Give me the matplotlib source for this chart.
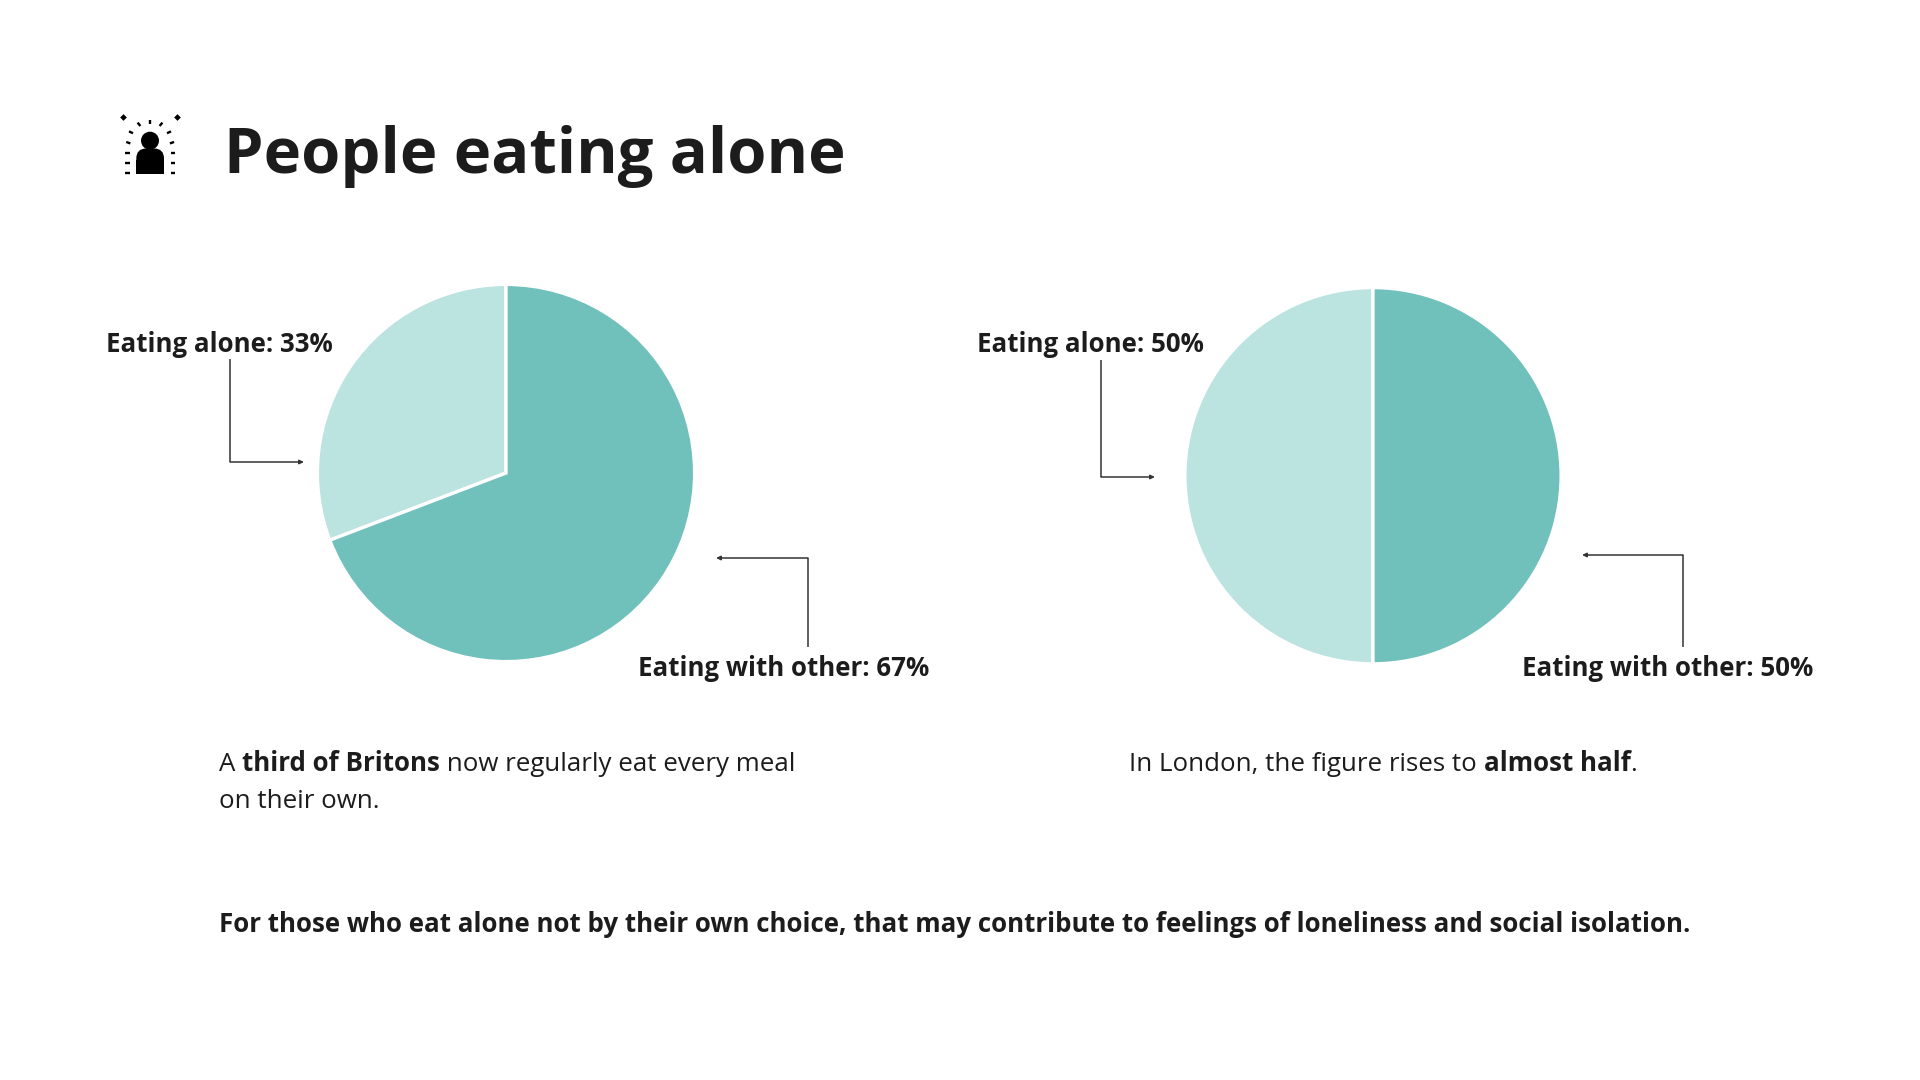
import numpy as np
import matplotlib
matplotlib.use('Agg')
import matplotlib.pyplot as plt
from matplotlib.patches import Circle, FancyBboxPatch, Rectangle

plt.rcParams['font.family'] = ['Open Sans', 'DejaVu Sans']

# slices, labels as printed on it
left_slices = [30.8, 69.2]
right_slices = [50, 50]
left_labels = ['Eating alone: 33%', 'Eating with other: 67%']
right_labels = ['Eating alone: 50%', 'Eating with other: 50%']
light = '#bbe3df'
dark = '#70c0bc'
ink = '#1c1c1c'

W, H = 1920, 1080
fig = plt.figure(figsize=(W / 100, H / 100), dpi=100, facecolor='white')

# overlay in pixels for the text, leader lines and icon
ov = fig.add_axes([0, 0, 1, 1], zorder=3)
ov.set_xlim(0, W)
ov.set_ylim(H, 0)
ov.axis('off')


def draw_pie(cx, cy, r, values):
    ax = fig.add_axes([(cx - r) / W, 1 - (cy + r) / H, 2 * r / W, 2 * r / H])
    ax.pie(values, colors=[light, dark], startangle=90, radius=1,
           wedgeprops={'edgecolor': 'white', 'linewidth': 2.4})
    ax.set_xlim(-1.01, 1.01)
    ax.set_ylim(-1.01, 1.01)


def leader(points):
    xs = [p[0] for p in points]
    ys = [p[1] for p in points]
    ov.plot(xs[:-1], ys[:-1], color='#333333', lw=1.1, solid_capstyle='butt')
    ov.annotate('', xy=points[-1], xytext=points[-2],
                arrowprops=dict(arrowstyle='-|>,head_width=0.12,head_length=0.25',
                                color='#333333', lw=1.1, shrinkA=0, shrinkB=0))


def runs(x, y, parts, size):
    # one line of text with bold and regular stretches
    rend = fig.canvas.get_renderer()
    for s, weight in parts:
        t = ov.text(x, y, s, fontsize=size, color=ink, weight=weight, va='baseline')
        x += t.get_window_extent(rend).width


draw_pie(506, 473, 190.5, left_slices)
draw_pie(1373, 475.7, 190, right_slices)

# title
ov.text(224, 173, 'People eating alone', fontsize=45.5, weight='bold', color=ink, va='baseline')

# labels
ov.text(106, 352, left_labels[0], fontsize=18.6, weight='bold', color=ink, va='baseline')
ov.text(638, 676, left_labels[1], fontsize=18.6, weight='bold', color=ink, va='baseline')
ov.text(977, 352, right_labels[0], fontsize=18.6, weight='bold', color=ink, va='baseline')
ov.text(1522, 676, right_labels[1], fontsize=18.6, weight='bold', color=ink, va='baseline')

leader([(230, 359), (230, 462), (304, 462)])
leader([(808, 647), (808, 558), (716, 558)])
leader([(1101, 360), (1101, 477), (1155, 477)])
leader([(1683, 647), (1683, 555), (1582, 555)])

# captions
runs(219, 771, [('A ', 'normal'), ('third of Britons', 'bold'),
                (' now regularly eat every meal', 'normal')], 18.6)
runs(219, 808, [('on their own.', 'normal')], 18.6)
runs(1129, 771, [('In London, the figure rises to ', 'normal'), ('almost half', 'bold'),
                 ('.', 'normal')], 18.6)
runs(219, 932, [('For those who eat alone not by their own choice, that may contribute '
                 'to feelings of loneliness and social isolation.', 'bold')], 18.63)

# icon, person with small rays round it
ov.add_patch(Circle((150, 140.7), 9, color='black', lw=0))
ov.add_patch(FancyBboxPatch((136.3, 148.5), 27.7, 25.5, boxstyle='round,pad=0,rounding_size=10',
                            color='black', lw=0))
ov.add_patch(Rectangle((136.3, 160), 27.7, 14, color='black', lw=0))
rays = [(127.3, 172.7, 0), (127.3, 162.7, 0), (127.3, 152.7, 0), (128.3, 142.7, 20),
        (131, 132.3, 25), (139, 124.3, 50), (150, 121.7, 90), (161, 124.3, 130),
        (169, 132.3, 155), (172, 142.7, 160), (173, 152.7, 180), (173, 162.7, 180),
        (173, 172.7, 180)]
for rx, ry, ang in rays:
    dx = 2.2 * np.cos(np.radians(ang))
    dy = 2.2 * np.sin(np.radians(ang))
    ov.plot([rx - dx, rx + dx], [ry - dy, ry + dy], color='black', lw=1.7, solid_capstyle='butt')
ov.plot([123, 177.3], [116.7, 116.7], ls='none', marker='D', ms=3.4, color='black', mew=0)

fig.savefig('out.png', dpi=100, facecolor='white')
